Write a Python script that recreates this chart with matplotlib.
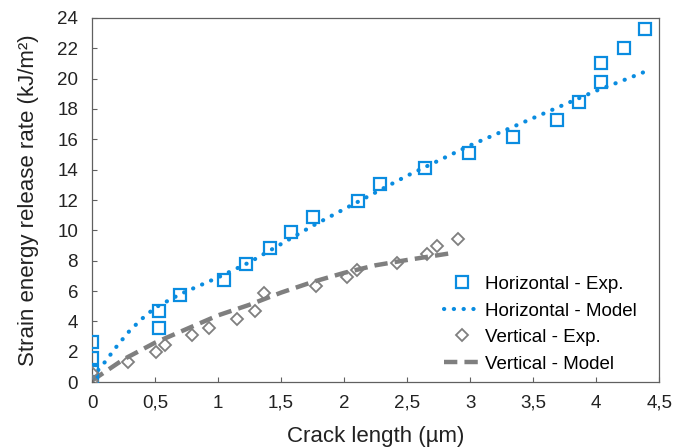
import matplotlib.pyplot as plt

plt.rcParams['font.family'] = ['Liberation Sans', 'DejaVu Sans']

# Horizontal - experimental
h_exp_x = [0, 0, 0, 0, 0.53, 0.53, 0.70, 1.05, 1.225, 1.41, 1.58, 1.757,
           2.11, 2.286, 2.64, 2.99, 3.34, 3.69, 3.865, 4.04, 4.04, 4.22, 4.39]
h_exp_y = [0, 0.67, 1.56, 2.66, 4.70, 3.60, 5.71, 6.72, 7.76, 8.81, 9.89, 10.88,
           11.91, 13.03, 14.10, 15.12, 16.17, 17.25, 18.44, 19.80, 21.03, 22.04, 23.25]

# Horizontal - model
h_mod_x = [0, 0.1, 0.2, 0.3, 0.4, 0.5, 0.7, 1.0, 1.25, 1.5, 1.75, 2.0, 2.25,
           2.5, 2.75, 3.0, 3.25, 3.5, 3.75, 4.0, 4.25, 4.4]
h_mod_y = [0.3, 1.3, 2.4, 3.4, 4.2, 4.9, 5.8, 6.9, 7.9, 9.1, 10.3, 11.4, 12.5,
           13.6, 14.6, 15.6, 16.5, 17.4, 18.3, 19.2, 20.0, 20.5]

# Vertical - experimental
v_exp_x = [0, 0, 0.285, 0.505, 0.577, 0.79, 0.93, 1.15, 1.29, 1.366, 1.78,
           2.02, 2.10, 2.42, 2.655, 2.74, 2.90]
v_exp_y = [0.1, 0.6, 1.3, 1.96, 2.46, 3.1, 3.6, 4.13, 4.72, 5.85, 6.33,
           6.94, 7.4, 7.84, 8.44, 8.94, 9.4]

# Vertical - model
v_mod_x = [0, 0.25, 0.5, 0.75, 1.0, 1.25, 1.5, 1.75, 2.0, 2.25, 2.5, 2.85]
v_mod_y = [0.1, 1.5, 2.6, 3.5, 4.4, 5.1, 5.9, 6.6, 7.2, 7.7, 8.05, 8.5]

blue = '#0A8CE0'
grey = '#7F7F7F'

fig = plt.figure(figsize=(6.74, 4.48), dpi=100)
ax = fig.add_axes([0.1365, 0.147, 0.8415, 0.813])

ax.plot(h_exp_x, h_exp_y, 's', ms=8.5, mfc='none', mec=blue, mew=1.6,
        label='Horizontal - Exp.', zorder=3)
ax.plot(h_mod_x, h_mod_y, color=blue, lw=3.0, linestyle=(0, (0.05, 2.3)),
        dash_capstyle='round', solid_capstyle='round',
        label='Horizontal - Model', zorder=2)
ax.plot(v_exp_x, v_exp_y, 'D', ms=6.5, mfc='none', mec=grey, mew=1.3,
        label='Vertical - Exp.', zorder=3)
ax.plot(v_mod_x, v_mod_y, '--', color=grey, lw=3.2, dashes=(3, 1.6),
        label='Vertical - Model', zorder=2)

ax.set_xlim(0, 4.5)
ax.set_ylim(0, 24)
ax.set_xticks([0, 0.5, 1, 1.5, 2, 2.5, 3, 3.5, 4, 4.5])
ax.set_xticklabels(['0', '0,5', '1', '1,5', '2', '2,5', '3', '3,5', '4', '4,5'])
ax.set_yticks(range(0, 25, 2))
ax.tick_params(labelsize=13.5, labelcolor='#222222', direction='in', length=3.5,
               width=0.8, color='#606060')
ax.tick_params(axis='x', pad=9)
ax.tick_params(axis='y', pad=10)

for s in ax.spines.values():
    s.set_color('#606060')
    s.set_linewidth(0.9)

ax.set_xlabel('Crack length (µm)', fontsize=16, color='#222222', labelpad=10)
ax.set_ylabel('Strain energy release rate (kJ/m²)', fontsize=16, color='#222222', labelpad=13)

ax.legend(loc='lower right', frameon=False, fontsize=13.5, handlelength=2.0,
          handletextpad=0.2, labelspacing=0.5, bbox_to_anchor=(0.99, -0.02))

fig.savefig('out.png', dpi=100)
